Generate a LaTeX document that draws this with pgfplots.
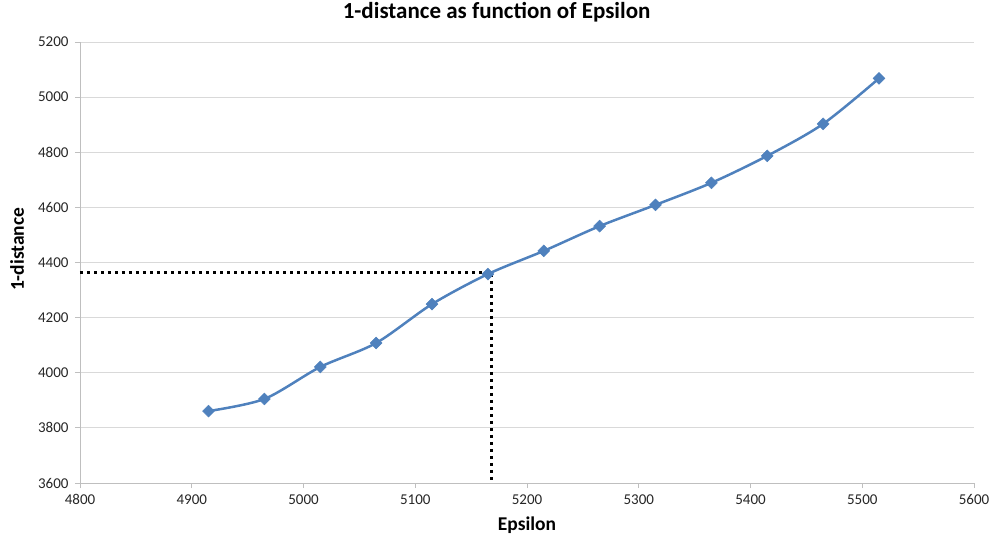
\documentclass[border=0pt]{standalone}
\usepackage{pgfplots}
\pgfplotsset{compat=1.18}
\usepackage{fontspec}
\setmainfont{Carlito}
\definecolor{xlblue}{HTML}{4F81BD}
\definecolor{gridgray}{HTML}{D9D9D9}
\definecolor{axgray}{HTML}{BFBFBF}
\definecolor{txt}{HTML}{262626}

\begin{document}
\begin{tikzpicture}
% picture frame in px (1px = 1pt), plot area lower left at origin
\useasboundingbox (-80pt,-56pt) rectangle (913pt,483pt);
\begin{axis}[
	at={(0,0)}, anchor=south west,
	scale only axis, width=894pt, height=441pt,
	xmin=4800, xmax=5600, ymin=3600, ymax=5200,
	xtick={4800,4900,...,5600}, ytick={3600,3800,...,5200},
	axis x line*=bottom, axis y line*=left,
	axis line style={axgray, line width=0.8pt, -},
	ymajorgrids, grid style={gridgray, line width=0.8pt},
	tick align=outside, major tick length=5pt,
	tick style={axgray, line width=0.8pt},
	/pgf/number format/assume math mode=true,
	/pgf/number format/1000 sep={},
	ticklabel style={font=\fontsize{15}{15}\selectfont, text=txt},
	xticklabel style={yshift=-3pt},
	yticklabel style={xshift=-3pt},
	title={\textbf{1-distance as function of Epsilon}},
	title style={font=\fontsize{23}{23}\selectfont, at={(rel axis cs:0.466,1)}, anchor=base, yshift=17pt},
	xlabel={\textbf{Epsilon}}, ylabel={\textbf{1-distance}},
	label style={font=\fontsize{19.5}{19.5}\selectfont},
	xlabel style={at={(rel axis cs:0.5,0)}, anchor=center, yshift=-42pt},
	ylabel style={at={(rel axis cs:0,0.53)}, anchor=center, rotate=0, yshift=63pt},
	clip=false,
]
\addplot[black, line width=3pt, dash pattern=on 3pt off 4pt] coordinates {
(4800,4365) (5168,4365) (5168,3600)
};
\addplot[xlblue, line width=2.5pt, smooth, mark=square*, mark size=4.2pt, mark options={solid, fill=xlblue, line width=0.5pt, rotate=45}] coordinates {
(4915,3861)
(4965,3905)
(5015,4021)
(5065,4108)
(5115,4249)
(5165,4358)
(5215,4442)
(5265,4532)
(5315,4609)
(5365,4689)
(5415,4787)
(5465,4903)
(5515,5068)
};
\end{axis}
\end{tikzpicture}
\end{document}
